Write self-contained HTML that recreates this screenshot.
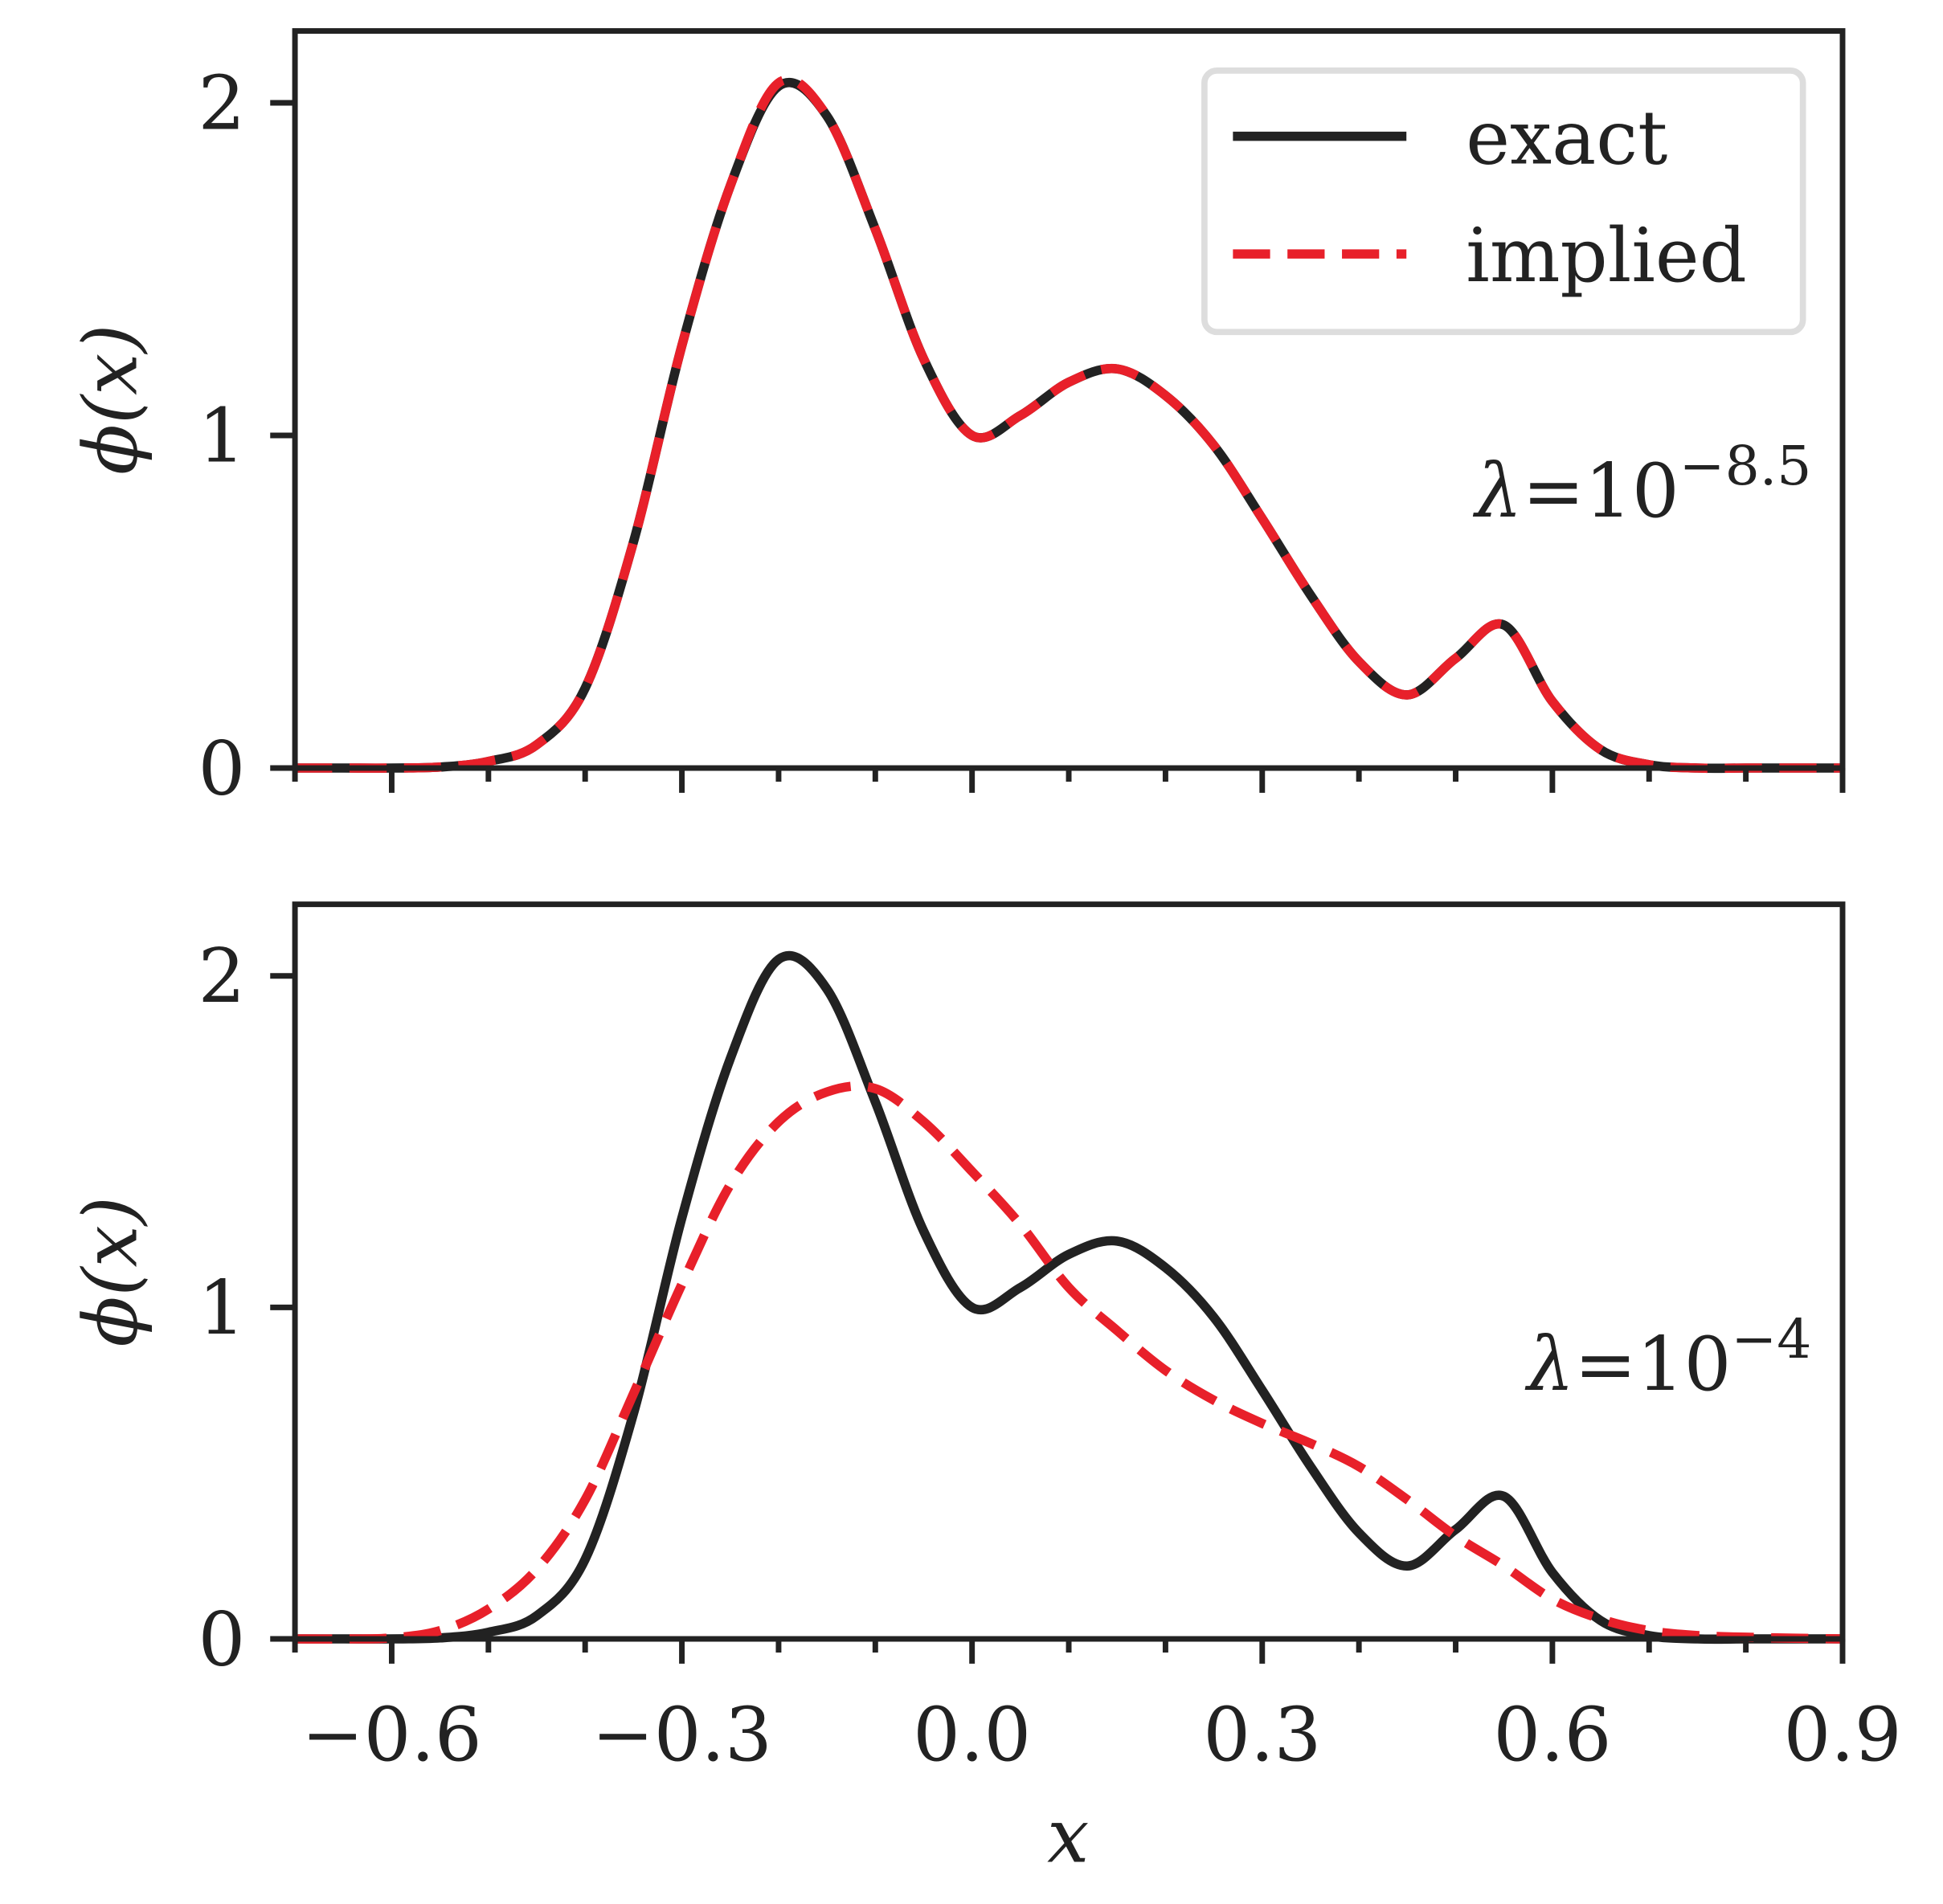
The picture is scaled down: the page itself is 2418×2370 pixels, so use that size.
<!DOCTYPE html>
<html><head><meta charset="utf-8"><style>
html,body{margin:0;padding:0;background:#fff;}
svg{display:block;}
text{font-family:"DejaVu Serif","Liberation Serif",serif;fill:#222;}
</style></head><body>
<svg id="chart" width="2418" height="2370" viewBox="0 0 1568 1537" xmlns="http://www.w3.org/2000/svg">
<g id="top"></g>
<g id="bot"></g>
</svg>
<script>
const xs = [-0.7,-0.65,-0.6,-0.55,-0.5,-0.45,-0.4,-0.35,-0.3,-0.25,-0.2,-0.15,-0.1,-0.05,0,0.05,0.1,0.15,0.2,0.25,0.3,0.35,0.4,0.45,0.5,0.55,0.6,0.65,0.7,0.75,0.8,0.85,0.9];
const exactY = [0,0,0,0.003,0.02,0.07,0.24,0.68,1.27,1.75,2.05,1.96,1.62,1.23,1.0,1.06,1.16,1.2,1.12,0.97,0.75,0.52,0.32,0.22,0.33,0.43,0.2,0.055,0.01,0,0,0,0];
const impliedTopY = [0,0,0,0.003,0.02,0.07,0.24,0.68,1.27,1.75,2.06,1.96,1.62,1.23,1.0,1.06,1.16,1.2,1.12,0.97,0.75,0.52,0.32,0.22,0.33,0.43,0.2,0.055,0.01,0,0,0,0];
const impliedBotY = [0,0,0.003,0.025,0.09,0.21,0.42,0.74,1.07,1.37,1.56,1.65,1.66,1.56,1.41,1.25,1.06,0.93,0.81,0.72,0.65,0.59,0.52,0.42,0.31,0.22,0.12,0.06,0.025,0.01,0.005,0.002,0];
const xTicks = [-0.6,-0.3,0.0,0.3,0.6,0.9];
const xTickLabels = ["−0.6","−0.3","0.0","0.3","0.6","0.9"];
const yTicks = [0,1,2];
const NS="http://www.w3.org/2000/svg";
const L=238,R=1487;
const xS=v=>L+(v+0.7)/1.6*(R-L);
function mk(p,tag,attrs){const e=document.createElementNS(NS,tag);for(const k in attrs)e.setAttribute(k,attrs[k]);p.appendChild(e);return e;}
function path(ys,yS){const P=xs.map((x,i)=>[xS(x),yS(ys[i])]);let d=`M${P[0][0]},${P[0][1]}`;
 for(let i=0;i<P.length-1;i++){const p0=P[Math.max(0,i-1)],p1=P[i],p2=P[i+1],p3=P[Math.min(P.length-1,i+2)];
 d+=` C${p1[0]+(p2[0]-p0[0])/6},${p1[1]+(p2[1]-p0[1])/6} ${p2[0]-(p3[0]-p1[0])/6},${p2[1]-(p3[1]-p1[1])/6} ${p2[0]},${p2[1]}`;}return d;}
function panel(g,T,B,impY,lam,labels){
 const yS=v=>B-v*(B-T)/2.216;
 const e=mk(g,'path',{d:path(exactY,yS),fill:'none',stroke:'#222','stroke-width':7.5});
 
 const m=mk(g,'path',{d:path(impY,yS),fill:'none',stroke:'#e8202a','stroke-width':7.5,'stroke-dasharray':'30 14'});
 
 const f=mk(g,'rect',{x:L,y:T,width:R-L,height:B-T,fill:'none',stroke:'#222','stroke-width':4.5});
 
 for(let k=-7;k<=9;k++){const v=k/10;const maj=xTicks.some(t=>Math.abs(t-v)<1e-9);
  const t=mk(g,'line',{x1:xS(v),x2:xS(v),y1:B,y2:B+(maj?20:11),stroke:'#222','stroke-width':4.5});
  }
 if(labels){xTicks.forEach((v,i)=>{const t=mk(g,'text',{x:xS(v),y:B+98,'text-anchor':'middle','font-size':60});t.textContent=xTickLabels[i];
  });}
 yTicks.forEach(v=>{const t=mk(g,'line',{x1:L-20,x2:L,y1:yS(v),y2:yS(v),stroke:'#222','stroke-width':4.5});
  
  const l=mk(g,'text',{x:L-40,y:yS(v)+21,'text-anchor':'end','font-size':60});l.textContent=v;
  });
 const yl=mk(g,'text',{transform:`translate(110,${(T+B)/2}) rotate(-90)`,'text-anchor':'middle','font-size':60,'font-style':'italic'});yl.textContent='ϕ(x)';
 
 const a=mk(g,'text',{x:1462,y:T+392,'text-anchor':'end','font-size':60});
 a.innerHTML=`<tspan font-style="italic">λ</tspan>=10<tspan font-size="44" dy="-26">${lam}</tspan>`;
 
}
panel(document.getElementById('top'),25,620,impliedTopY,'−8.5',false);
panel(document.getElementById('bot'),730,1323,impliedBotY,'−4',true);
const svg=document.getElementById('chart');
const xt=mk(svg,'text',{x:862,y:1503,'text-anchor':'middle','font-size':60,'font-style':'italic'});xt.textContent='x';

const lg=mk(svg,'g',{});

mk(lg,'rect',{x:972,y:57,width:483,height:211,rx:10,fill:'#fff',stroke:'#ddd','stroke-width':5});
mk(lg,'line',{x1:995,x2:1135,y1:110,y2:110,stroke:'#222','stroke-width':7.5});
mk(lg,'line',{x1:995,x2:1135,y1:205,y2:205,stroke:'#e8202a','stroke-width':7.5,'stroke-dasharray':'30 14'});
const t1=mk(lg,'text',{x:1183,y:132,'font-size':60});t1.textContent='exact';

const t2=mk(lg,'text',{x:1183,y:227,'font-size':60});t2.textContent='implied';

</script>
</body></html>
